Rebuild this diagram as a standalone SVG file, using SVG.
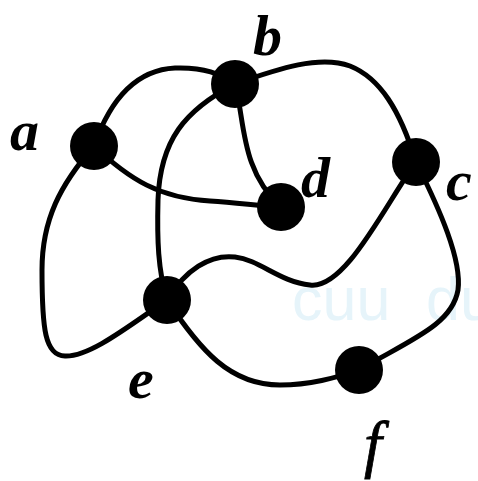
<svg xmlns="http://www.w3.org/2000/svg" width="478" height="481" viewBox="0 0 478 481">
<style>
.e{fill:none;stroke:#000;stroke-width:5;stroke-linecap:round}
.n{fill:#000}
.l{font-family:"Liberation Serif",serif;font-style:italic;font-weight:bold;font-size:58px;fill:#000}
.wm{font-family:"Liberation Sans",sans-serif;font-size:61px;fill:#e6f4fa}
</style>
<rect width="478" height="481" fill="#fff"/>
<text class="wm" x="292" y="320">cuu</text>
<text class="wm" x="426" y="320">du</text>
<g id="connectors">
<path class="e" d="M94,146 C110,100 135,70 175,68 C205,67 220,74 235,84"/>
<path class="e" d="M235,84 C280,68 320,55 350,66 C380,78 400,110 416,162"/>
<path class="e" d="M235,84 C245,120 240,170 281,207"/>
<path class="e" d="M235,84 C185,110 160,140 158,200 C157,240 158,270 167,300"/>
<path class="e" d="M94,146 C130,180 160,198 210,201 C240,203 260,206 281,207"/>
<path class="e" d="M94,146 C60,185 42,220 42,270 C42,330 45,355 65,356 C90,357 130,325 167,300"/>
<path class="e" d="M416,162 C385,205 345,290 310,285 C280,282 260,260 235,257 C210,254 185,270 167,300"/>
<path class="e" d="M416,162 C440,210 462,260 458,290 C452,325 410,340 359,370"/>
<path class="e" d="M167,300 C200,350 230,385 280,385 C310,385 335,378 359,370"/>
</g>
<g id="a"><circle class="n" cx="94" cy="146" r="24"/><text class="l" x="10" y="150">a</text></g>
<g id="b"><circle class="n" cx="235" cy="84" r="24"/><text class="l" x="253" y="55">b</text></g>
<g id="c"><circle class="n" cx="416" cy="162" r="24"/><text class="l" x="446" y="200">c</text></g>
<g id="d"><circle class="n" cx="281" cy="207" r="24"/><text class="l" x="301" y="197">d</text></g>
<g id="e"><circle class="n" cx="167" cy="300" r="24"/><text class="l" x="128" y="398">e</text></g>
<g id="f"><circle class="n" cx="359" cy="370" r="24"/><text class="l" x="364" y="465" style="font-weight:normal;font-size:64px;stroke:#000;stroke-width:0.8">f</text></g>
</svg>
